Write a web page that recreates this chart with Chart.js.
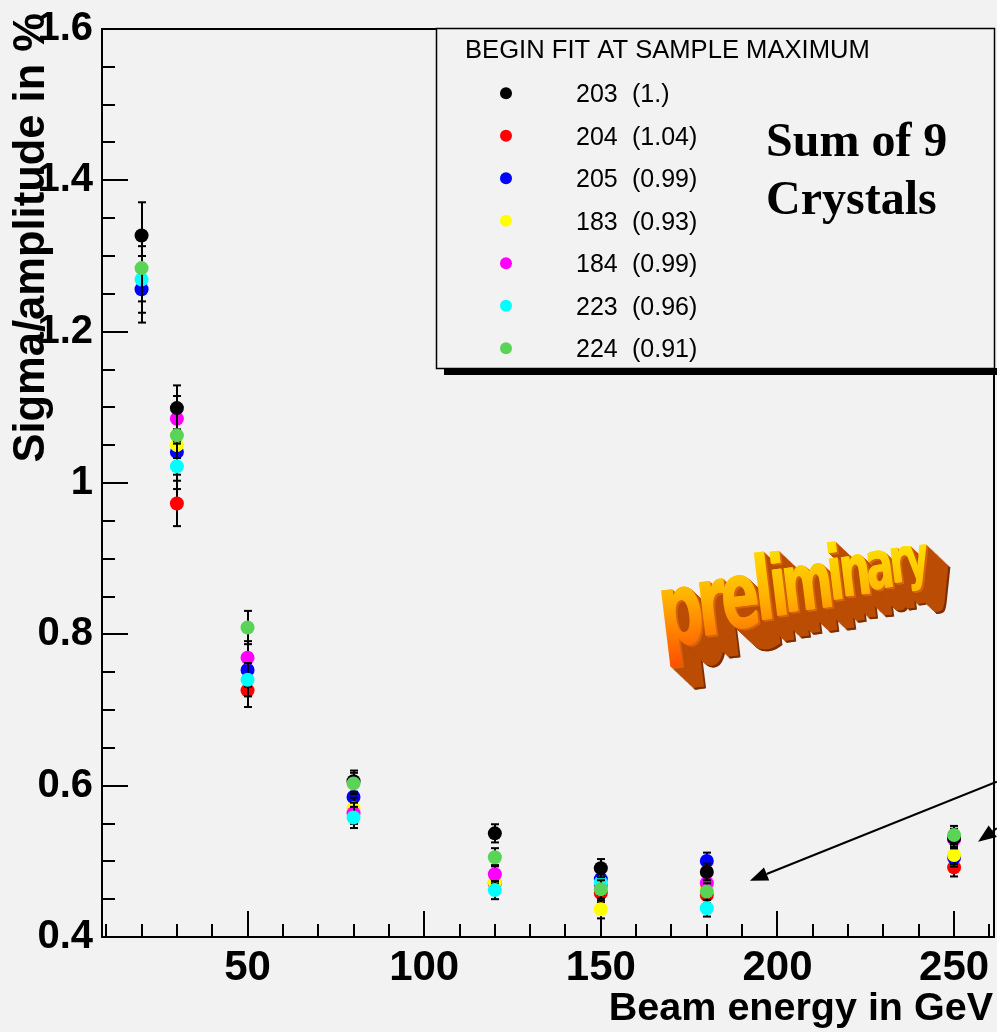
<!DOCTYPE html>
<html>
<head>
<meta charset="utf-8">
<script src="https://cdn.jsdelivr.net/npm/chart.js@4.4.0/dist/chart.umd.min.js"></script>
<style>
  html, body { margin: 0; padding: 0; background: #f2f2f2; }
  #wrap { width: 997px; height: 1032px; }
</style>
</head>
<body>
<div id="wrap"><canvas id="chart" width="997" height="1032"></canvas></div>
<script>
// === Data ===
const energies = [20, 30, 50, 80, 120, 150, 180, 250];            // GeV
// sigma/amplitude in %, one array per run (null = no point visible)
const run203 = [1.327, 1.099, null,  0.606,  0.537,  0.491,  0.486,  0.531];
const run204 = [null,  0.973, 0.726, null,   0.471,  0.458,  0.4555, 0.492];
const run205 = [1.256, 1.041, 0.753, 0.585,  null,   0.4765, 0.5005, 0.505];
const run183 = [null,  1.050, null,  0.570,  0.472,  0.4366, 0.4648, 0.5084];
const run184 = [null,  1.085, 0.769, 0.5635, 0.483,  0.468,  0.471,  0.529];
const run223 = [1.269, 1.022, 0.740, 0.558,  0.462,  0.472,  0.438,  null];
const run224 = [1.284, 1.063, 0.809, 0.603,  0.5054, 0.463,  0.460,  0.5348];
const errByEnergy = [0.044, 0.030, 0.022, 0.014, 0.012, 0.012, 0.011, 0.012];

const runIds     = ['203', '204', '205', '183', '184', '223', '224'];
const runFactors = ['(1.)', '(1.04)', '(0.99)', '(0.93)', '(0.99)', '(0.96)', '(0.91)'];
const runValues  = [run203, run204, run205, run183, run184, run223, run224];

const xTickValues = [50, 100, 150, 200, 250];
const yTickValues = [0.4, 0.6, 0.8, 1, 1.2, 1.4, 1.6];
const yTickLabels = ['0.4', '0.6', '0.8', '1', '1.2', '1.4', '1.6'];

// === Styles ===
const runColors = ['#000000', '#ff0000', '#0000ff', '#ffff00', '#ff00ff', '#00ffff', '#5ad456'];
const runOrder  = [1, 6, 5, 4, 3, 2, 0];   // lower = drawn on top
const BG = '#f2f2f2';
const SANS = '"Liberation Sans", Arial, sans-serif';
const SERIF = '"Liberation Serif", "Times New Roman", serif';

// arrows, in data units (from -> to)
const ARROWS = [
  { from: [262.1, 0.6053], to: [192.2, 0.4744] },
  { from: [262.1, 0.5437], to: [256.8, 0.5260] }
];

const LEG = { left: 436, top: 28, right: 994, bottom: 368, shadow: 7,
  titleX: 465, titleY: 58, markerX: 506, idX: 576, factorX: 632, rowY0: 93.3, rowStep: 42.5 };

const PRELIM = { text: 'preliminary', x: 666, y: 646, baseAngle: -15.5, glyphAngle: -7,
  length: 272, size: 102, shrink: 0.42, widen: 1.15, depth: 24, dx: 1, dy: 0.95,
  gTop: 535, gBot: 672 };

const datasets = runValues.map((vals, r) => ({
  label: runIds[r] + '  ' + runFactors[r],
  data: energies.map((e, i) => vals[i] == null ? null : { x: e, y: vals[i], err: errByEnergy[i] })
                .filter(p => p),
  backgroundColor: runColors[r],
  borderColor: runColors[r],
  pointRadius: 7,
  pointHoverRadius: 7,
  pointBorderWidth: 0,
  showLine: false,
  order: runOrder[r]
}));

function line(ctx, x1, y1, x2, y2) {
  ctx.beginPath(); ctx.moveTo(x1, y1); ctx.lineTo(x2, y2); ctx.stroke();
}

// error bars, drawn just before each run's markers (like ROOT)
const errorBars = {
  id: 'errorBars',
  beforeDatasetDraw(chart, args) {
    const ctx = chart.ctx, xs = chart.scales.x, ys = chart.scales.y;
    const ds = chart.data.datasets[args.index];
    ctx.save();
    ctx.strokeStyle = '#000';
    ctx.lineWidth = 2;
    ds.data.forEach(p => {
      const px = Math.round(xs.getPixelForValue(p.x));
      const hi = ys.getPixelForValue(p.y + p.err);
      const lo = ys.getPixelForValue(p.y - p.err);
      line(ctx, px, hi, px, lo);
      line(ctx, px - 4, hi, px + 4, hi);
      line(ctx, px - 4, lo, px + 4, lo);
    });
    ctx.restore();
  }
};

const frame = {
  id: 'frame',
  beforeDraw(chart) {
    const ctx = chart.ctx;
    ctx.save();
    ctx.fillStyle = BG;
    ctx.fillRect(0, 0, chart.width, chart.height);
    ctx.restore();
  },
  beforeDatasetsDraw(chart) {
    const ctx = chart.ctx, a = chart.chartArea, xs = chart.scales.x, ys = chart.scales.y;
    ctx.save();
    ctx.strokeStyle = '#000';
    ctx.lineWidth = 2;
    // ticks inside the frame
    for (let v = 10; v <= 260; v += 10) {
      const px = Math.round(xs.getPixelForValue(v));
      line(ctx, px, a.bottom, px, a.bottom - (v % 50 === 0 ? 26 : 13));
    }
    for (let k = 0; k <= 24; k++) {
      const py = Math.round(ys.getPixelForValue(0.4 + k * 0.05));
      line(ctx, a.left, py, a.left + (k % 4 === 0 ? 26 : 13), py);
    }
    // top and right frame
    line(ctx, a.left, a.top, a.right, a.top);
    line(ctx, a.right, a.top, a.right, a.bottom);
    ctx.restore();
  },
  afterDatasetsDraw(chart) {
    const ctx = chart.ctx, xs = chart.scales.x, ys = chart.scales.y;
    drawPreliminary(ctx);

    // arrows
    ctx.save();
    ctx.strokeStyle = '#000'; ctx.fillStyle = '#000'; ctx.lineWidth = 2;
    ARROWS.forEach(ar => {
      const x1 = xs.getPixelForValue(ar.from[0]), y1 = ys.getPixelForValue(ar.from[1]);
      const x2 = xs.getPixelForValue(ar.to[0]),   y2 = ys.getPixelForValue(ar.to[1]);
      const ang = Math.atan2(y2 - y1, x2 - x1);
      const hl = 18, hw = 7;
      const bx = x2 - hl * Math.cos(ang), by = y2 - hl * Math.sin(ang);
      line(ctx, x1, y1, bx, by);
      ctx.beginPath();
      ctx.moveTo(x2, y2);
      ctx.lineTo(bx + hw * Math.sin(ang), by - hw * Math.cos(ang));
      ctx.lineTo(bx - hw * Math.sin(ang), by + hw * Math.cos(ang));
      ctx.closePath();
      ctx.fill();
    });
    ctx.restore();

    // legend box
    ctx.save();
    ctx.fillStyle = '#000';
    ctx.fillRect(LEG.left + 8, LEG.bottom, chart.width - LEG.left - 8, LEG.shadow);
    ctx.fillStyle = BG;
    ctx.fillRect(LEG.left, LEG.top, LEG.right - LEG.left, LEG.bottom - LEG.top);
    ctx.strokeStyle = '#000'; ctx.lineWidth = 1.5;
    ctx.strokeRect(LEG.left + 0.5, LEG.top + 0.5, LEG.right - LEG.left, LEG.bottom - LEG.top);
    ctx.fillStyle = '#000';
    ctx.font = '25.6px ' + SANS;
    ctx.textBaseline = 'alphabetic';
    ctx.fillText('BEGIN FIT AT SAMPLE MAXIMUM', LEG.titleX, LEG.titleY);
    runIds.forEach((id, r) => {
      const y = LEG.rowY0 + r * LEG.rowStep;
      ctx.fillStyle = runColors[r];
      ctx.beginPath(); ctx.arc(LEG.markerX, y, 6, 0, Math.PI * 2); ctx.fill();
      ctx.fillStyle = '#000';
      ctx.font = '25px ' + SANS;
      ctx.fillText(id, LEG.idX, y + 9);
      ctx.fillText(runFactors[r], LEG.factorX, y + 9);
    });
    ctx.font = 'bold 48px ' + SERIF;
    ctx.fillText('Sum of 9', 766, 156);
    ctx.fillText('Crystals', 766, 214);
    ctx.restore();

    // axis titles
    ctx.save();
    ctx.fillStyle = '#000';
    ctx.font = 'bold 39.5px ' + SANS;
    ctx.textAlign = 'right';
    ctx.textBaseline = 'alphabetic';
    ctx.fillText('Beam energy in GeV', 993, 1020);
    ctx.translate(44, 13);
    ctx.rotate(-Math.PI / 2);
    ctx.font = 'bold 43.5px ' + SANS;
    ctx.fillText('Sigma/amplitude in %', 0, 0);
    ctx.restore();
  }
};

function drawPreliminary(ctx) {
  const P = PRELIM;
  ctx.save();
  ctx.font = 'bold ' + P.size + 'px "Liberation Sans Narrow", "DejaVu Sans Condensed", "DejaVu Sans", sans-serif';
  ctx.textBaseline = 'alphabetic';
  const chars = P.text.split('');
  const ws = chars.map(c => ctx.measureText(c).width);
  const ss = chars.map((c, i) => 1 - P.shrink * i / (chars.length - 1));
  const raw = ws.reduce((s, w, i) => s + w * ss[i], 0);
  const k = P.length / raw;
  const ca = Math.cos(P.baseAngle * Math.PI / 180), sa = Math.sin(P.baseAngle * Math.PI / 180);
  let d = 0;
  const items = chars.map((c, i) => {
    const it = { c, w: ws[i], x: P.x + d * ca, y: P.y + d * sa, s: ss[i] };
    d += ws[i] * ss[i] * k;
    return it;
  });
  const glyph = (it, ox, oy, fill) => {
    for (let h = 0; h <= 1; h++) {
      ctx.save();
      ctx.translate(it.x + ox + h, it.y + oy);
      ctx.rotate(P.glyphAngle * Math.PI / 180);
      ctx.scale(k * P.widen * it.s, it.s);
      ctx.fillStyle = typeof fill === 'function' ? fill(it) : fill;
      ctx.fillText(it.c, -it.w * (P.widen - 1) / 2, 0);
      ctx.restore();
    }
  };
  // extrusion
  for (let j = P.depth; j >= 1; j--) {
    const col = j > P.depth - 2 ? '#7e2e00' : (j < 3 ? '#d8640e' : '#bb4d04');
    items.forEach(it => glyph(it, j * P.dx, j * P.dy, col));
  }
  // front face
  items.forEach(it => glyph(it, 0, 0, g => {
    const gr = ctx.createLinearGradient(0, (P.gTop - g.y) / g.s, 0, (P.gBot - g.y) / g.s);
    gr.addColorStop(0, '#ffe800');
    gr.addColorStop(0.45, '#ffb400');
    gr.addColorStop(1, '#ff4800');
    return gr;
  }));
  ctx.restore();
}

const tickFont = { family: SANS, weight: 'bold' };

function noPad(s) {
  s.paddingTop = 0; s.paddingBottom = 0; s.paddingLeft = 0; s.paddingRight = 0;
}

new Chart(document.getElementById('chart'), {
  type: 'scatter',
  data: { datasets },
  options: {
    responsive: false,
    animation: false,
    devicePixelRatio: 1,
    events: [],
    layout: { autoPadding: false, padding: { top: 29, right: 3, left: 0, bottom: 0 } },
    plugins: { legend: { display: false }, tooltip: { enabled: false } },
    scales: {
      x: {
        type: 'linear', min: 8.8, max: 261.3,
        afterBuildTicks: s => { s.ticks = xTickValues.map(v => ({ value: v })); },
        afterFit: s => { s.height = 95; noPad(s); },
        grid: { display: false, drawTicks: false },
        border: { display: true, color: '#000', width: 2 },
        ticks: { color: '#000', font: { ...tickFont, size: 42 }, padding: 6,
                 maxRotation: 0, autoSkip: false }
      },
      y: {
        type: 'linear', min: 0.4, max: 1.6,
        afterBuildTicks: s => { s.ticks = yTickValues.map(v => ({ value: v })); },
        afterFit: s => { s.width = 102; noPad(s); },
        grid: { display: false, drawTicks: false },
        border: { display: true, color: '#000', width: 2 },
        ticks: { color: '#000', font: { ...tickFont, size: 40 }, padding: 9,
                 autoSkip: false, callback: (v, i) => yTickLabels[i] }
      }
    }
  },
  plugins: [frame, errorBars]
});
</script>
</body>
</html>
